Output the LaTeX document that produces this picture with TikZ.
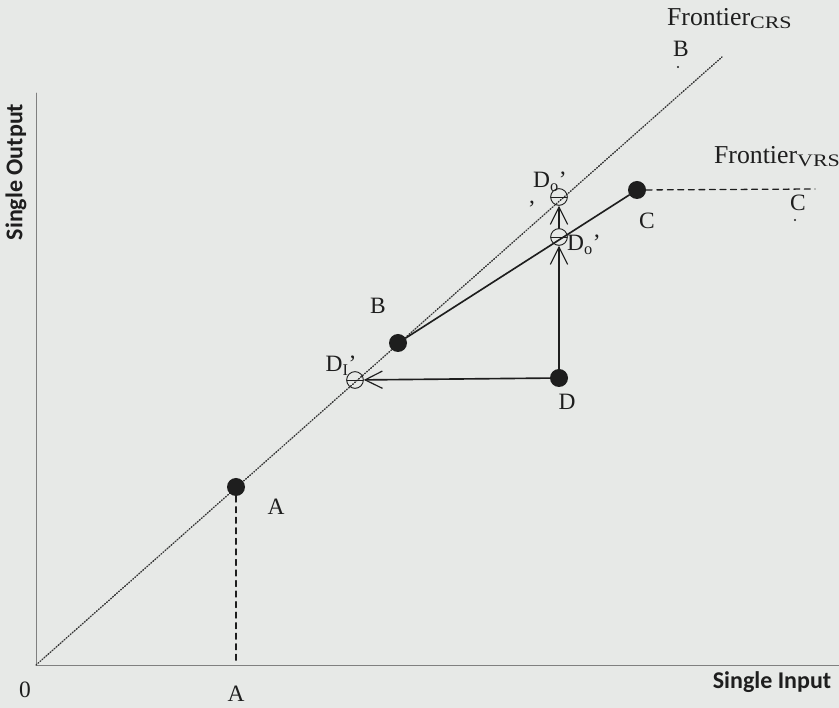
\documentclass[tikz,border=0pt]{standalone}
\usepackage{fontspec}
\setmainfont{Liberation Serif}
\newfontfamily\axisfont{Carlito}
\usetikzlibrary{arrows.meta}
\definecolor{paper}{RGB}{231,233,231}
\definecolor{ink}{RGB}{30,30,30}
\newcommand{\frsub}[1]{\raisebox{-2pt}{\scalebox{1.25}[1]{\fontsize{15}{15}\selectfont #1}}}

\begin{document}
\begin{tikzpicture}[
						x=0.3mm, y=-0.3mm,
						every node/.style={font=\fontsize{20}{22}\selectfont, text=ink},
						line cap=round,
						line join=round,
						dot/.style={circle, fill=ink, inner sep=0pt, minimum size=5.4mm},
						proj/.style={circle, draw=ink, line width=0.8pt, inner sep=0pt, minimum size=5mm,
							path picture={\draw[ink, line width=0.8pt] (path picture bounding box.west) -- (path picture bounding box.east);}},
						arr/.style={ink, line width=1.4pt, -{Straight Barb[length=5.2mm, width=5.2mm, line width=1pt]}},
						crs/.style={ink!90, line width=1.2pt, dash pattern=on 0.8pt off 1.5pt},
						vrs/.style={ink, line width=1.1pt, dash pattern=on 5pt off 4pt},
						axis/.style={gray, line width=0.8pt},
						big/.style={font=\fontsize{22}{24}\selectfont},
						axlabel/.style={font=\axisfont\bfseries\fontsize{20.5}{22}\selectfont}
						]
						
						\fill[paper] (0,0) rectangle (839,708);
						\useasboundingbox (0,0) rectangle (839,708);
						
						% axes and the CRS frontier
						\coordinate (O) at (36,665);
						\coordinate (ytop) at (36,93);
						\coordinate (xend) at (839,665);
						\coordinate (crsend) at (722,57);
						\draw[axis] (ytop) -- (O) -- (xend);
						\draw[crs] (O) -- (crsend);
						
						% firms
						\node[dot] (A) at (236,487) {};
						\node[dot] (B) at (398,343) {};
						\node[dot] (C) at (637,190) {};
						\node[dot] (D) at (559,378) {};
						
						% projections of D
						\node[proj] (DI) at (355,380) {};
						\node[proj] (Dlo) at (559,237) {};
						\node[proj] (Dup) at (559,197) {};
						
						% VRS frontier
						\coordinate (Afoot) at (236,664);
						\coordinate (vrsend) at (815,189);
						\draw[vrs] (A) -- (Afoot);
						\draw[vrs] (C) -- (vrsend);
						\draw[ink, line width=1.4pt] (B) -- (C);
						
						\draw[arr] (D) -- (DI);
						\draw[arr] (D) -- (Dlo);
						\draw[arr] (Dlo) -- (Dup);
						
						% labels
						\node[big, anchor=base west] (lcrs) at (663,26) {Frontier\frsub{CRS}};
						\node[big, anchor=base west] (lvrs) at (710,164) {Frontier\frsub{VRS}};
						\node (lBtop) at (681,49) {B};
						\fill[ink] (678,67) circle (0.35mm);
						\node (lCright) at (798,203) {C};
						\fill[ink] (795,220) circle (0.35mm);
						\node (lC) at (647,221) {C};
						\node (lB) at (378,306) {B};
						\node (lD) at (567,402) {D};
						\node (lA) at (276,507) {A};
						\node (lAx) at (236,694) {A};
						\node (l0) at (25,690) {0};
						\node (lDI) at (341,366) {D\textsubscript{I}'};
						\node[inner sep=0pt] (lDup) at (550,182) {D\textsubscript{o}'};
						\node[inner sep=0pt, anchor=base] (lcomma) at (532,204) {,};
						\node (lDlo) at (584,245) {D\textsubscript{o}'};
						
						\node[axlabel, anchor=base] (lin) at (772,689) {Single Input};
						\node[axlabel, rotate=90] (lout) at (16,172) {Single Output};
						
					\end{tikzpicture}
\end{document}
